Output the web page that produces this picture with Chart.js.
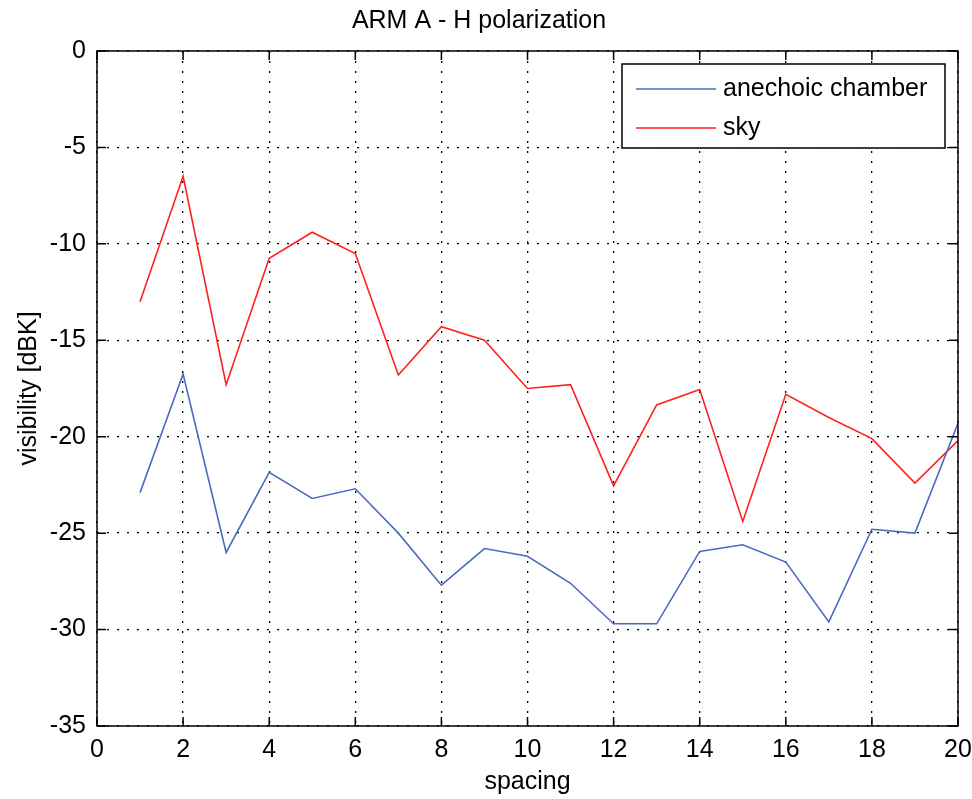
<!DOCTYPE html>
<html>
<head>
<meta charset="UTF-8">
<title>ARM A - H polarization</title>
<script src="https://cdn.jsdelivr.net/npm/chart.js"></script>
<style>
  body { margin: 0; background: #fff; }
</style>
</head>
<body>
<canvas id="armChart" width="972" height="799"></canvas>
<script>
// values
const spacing = [1, 2, 3, 4, 5, 6, 7, 8, 9, 10, 11, 12, 13, 14, 15, 16, 17, 18, 19, 20];
const anechoic = [-22.9, -16.75, -26.0, -21.85, -23.2, -22.7, -25.0, -27.7, -25.8, -26.2,
                  -27.6, -29.7, -29.7, -25.95, -25.6, -26.5, -29.6, -24.8, -25.0, -19.3];
const sky = [-13.0, -6.5, -17.3, -10.75, -9.4, -10.5, -16.8, -14.3, -15.0, -17.5,
             -17.3, -22.55, -18.35, -17.55, -24.4, -17.8, -19.0, -20.1, -22.4, -20.2];
const xTicks = [0, 2, 4, 6, 8, 10, 12, 14, 16, 18, 20];
const yTicks = [-35, -30, -25, -20, -15, -10, -5, 0];

const FONT = "'Liberation Sans', Arial, sans-serif";
const FS = 25;

function pts(ys) {
    return spacing.map((x, i) => ({ x: x, y: ys[i] }));
}

// MATLAB style box, inner ticks and legend
const boxPlugin = {
    id: 'boxPlugin',
    afterDraw(chart) {
        const ctx = chart.ctx;
        const a = chart.chartArea;
        const xs = chart.scales.x, ys = chart.scales.y;
        ctx.save();
        ctx.strokeStyle = '#000';
        ctx.lineWidth = 1.5;
        ctx.strokeRect(a.left, a.top, a.right - a.left, a.bottom - a.top);
        ctx.beginPath();
        xTicks.forEach(v => {
            const px = xs.getPixelForValue(v);
            ctx.moveTo(px, a.bottom); ctx.lineTo(px, a.bottom - 9);
            ctx.moveTo(px, a.top); ctx.lineTo(px, a.top + 9);
        });
        yTicks.forEach(v => {
            const py = ys.getPixelForValue(v);
            ctx.moveTo(a.left, py); ctx.lineTo(a.left + 9, py);
            ctx.moveTo(a.right, py); ctx.lineTo(a.right - 9, py);
        });
        ctx.stroke();

        // legend box
        const lx = 622, ly = 64, lw = 323, lh = 84;
        ctx.fillStyle = '#fff';
        ctx.fillRect(lx, ly, lw, lh);
        ctx.lineWidth = 1.5;
        ctx.strokeRect(lx, ly, lw, lh);
        ctx.font = FS + 'px ' + FONT;
        ctx.textBaseline = 'middle';
        chart.data.datasets.forEach((ds, i) => {
            const yy = ly + 25 + i * 39;
            ctx.strokeStyle = ds.borderColor;
            ctx.lineWidth = 1.5;
            ctx.beginPath();
            ctx.moveTo(lx + 14, yy); ctx.lineTo(lx + 94, yy);
            ctx.stroke();
            ctx.fillStyle = '#000';
            ctx.fillText(ds.label, lx + 101, yy);
        });
        ctx.restore();
    }
};

const gridCfg = {
    color: '#000',
    lineWidth: 1.3,
    drawTicks: false
};

new Chart(document.getElementById('armChart'), {
    type: 'line',
    data: {
        datasets: [
            { label: 'anechoic chamber', data: pts(anechoic), borderColor: '#4a6bc0', borderWidth: 1.6, pointRadius: 0, fill: false, tension: 0 },
            { label: 'sky', data: pts(sky), borderColor: '#ff2020', borderWidth: 1.6, pointRadius: 0, fill: false, tension: 0 }
        ]
    },
    options: {
        responsive: false,
        animation: false,
        layout: { padding: { left: 0, right: 14, top: 0, bottom: 0 } },
        plugins: {
            legend: { display: false },
            tooltip: { enabled: false },
            title: {
                display: true,
                text: 'ARM A - H polarization',
                color: '#000',
                font: { family: FONT, size: FS, weight: 'normal' },
                padding: { top: 6, bottom: 15 }
            }
        },
        scales: {
            x: {
                type: 'linear',
                min: 0, max: 20,
                afterFit(scale) { scale.height = 73; scale.paddingLeft = 0; scale.paddingRight = 0; },
                afterBuildTicks(scale) { scale.ticks = xTicks.map(v => ({ value: v })); },
                grid: gridCfg,
                border: { display: false, dash: [2, 8] },
                ticks: { color: '#000', padding: 9, font: { family: FONT, size: FS } },
                title: { display: true, text: 'spacing', color: '#000', padding: { top: 0, bottom: 2 }, font: { family: FONT, size: FS } }
            },
            y: {
                min: -35, max: 0,
                afterFit(scale) { scale.width = 97; scale.paddingTop = 0; scale.paddingBottom = 0; },
                afterBuildTicks(scale) { scale.ticks = yTicks.map(v => ({ value: v })); },
                grid: gridCfg,
                border: { display: false, dash: [2, 8] },
                ticks: { color: '#000', padding: 11, font: { family: FONT, size: FS } },
                title: { display: true, text: 'visibility [dBK]', color: '#000', padding: { top: 14, bottom: 0 }, font: { family: FONT, size: FS } }
            }
        }
    },
    plugins: [boxPlugin]
});
</script>
</body>
</html>
